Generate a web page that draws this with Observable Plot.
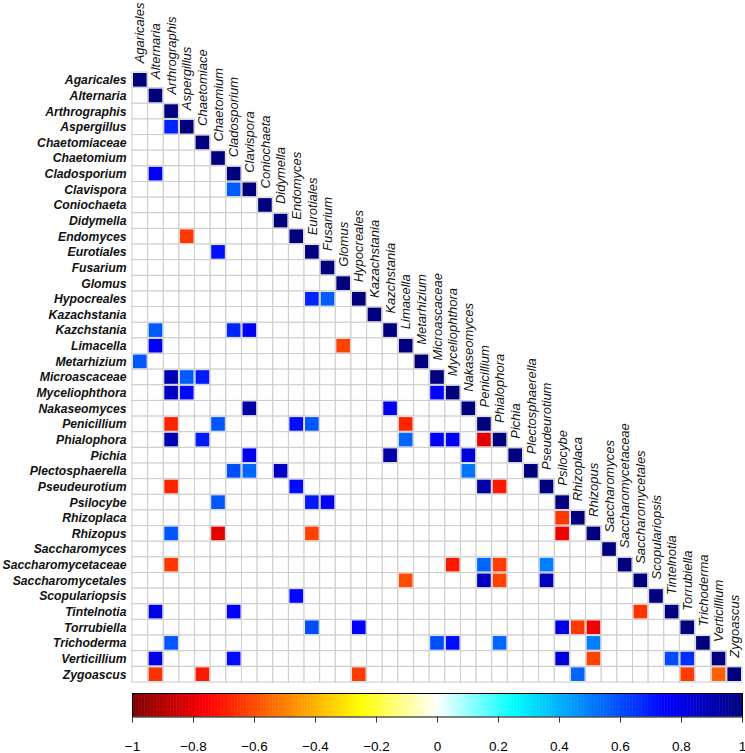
<!DOCTYPE html>
<html><head><meta charset="utf-8">
<script src="https://cdn.jsdelivr.net/npm/d3@7"></script>
<script src="https://cdn.jsdelivr.net/npm/@observablehq/plot@0.6"></script>
<style>
html,body{margin:0;padding:0;background:#fff;}
#chart svg{display:block;}
</style>
</head><body><div id="chart"></div>
<script>
// Taxa (row labels, in order)
const taxa = ["Agaricales","Alternaria","Arthrographis","Aspergillus","Chaetomiaceae","Chaetomium","Cladosporium","Clavispora","Coniochaeta","Didymella","Endomyces","Eurotiales","Fusarium","Glomus","Hypocreales","Kazachstania","Kazchstania","Limacella","Metarhizium","Microascaceae","Myceliophthora","Nakaseomyces","Penicillium","Phialophora","Pichia","Plectosphaerella","Pseudeurotium","Psilocybe","Rhizoplaca","Rhizopus","Saccharomyces","Saccharomycetaceae","Saccharomycetales","Scopulariopsis","Tintelnotia","Torrubiella","Trichoderma","Verticillium","Zygoascus"];
// Column labels as printed (one is truncated in the original)
const colLabels = ["Agaricales","Alternaria","Arthrographis","Aspergillus","Chaetomiace","Chaetomium","Cladosporium","Clavispora","Coniochaeta","Didymella","Endomyces","Eurotiales","Fusarium","Glomus","Hypocreales","Kazachstania","Kazchstania","Limacella","Metarhizium","Microascaceae","Myceliophthora","Nakaseomyces","Penicillium","Phialophora","Pichia","Plectosphaerella","Pseudeurotium","Psilocybe","Rhizoplaca","Rhizopus","Saccharomyces","Saccharomycetaceae","Saccharomycetales","Scopulariopsis","Tintelnotia","Torrubiella","Trichoderma","Verticillium","Zygoascus"];
// Significant off-diagonal correlations: [row, column, r]
const correlations = [
  ["Aspergillus","Arthrographis",0.68],
  ["Cladosporium","Alternaria",0.76],
  ["Clavispora","Cladosporium",0.57],
  ["Endomyces","Aspergillus",-0.64],
  ["Eurotiales","Chaetomium",0.72],
  ["Hypocreales","Eurotiales",0.68],["Hypocreales","Fusarium",0.57],
  ["Kazchstania","Alternaria",0.57],["Kazchstania","Cladosporium",0.68],["Kazchstania","Clavispora",0.76],
  ["Limacella","Alternaria",0.76],["Limacella","Glomus",-0.62],
  ["Metarhizium","Agaricales",0.58],
  ["Microascaceae","Arthrographis",0.90],["Microascaceae","Aspergillus",0.57],["Microascaceae","Chaetomiaceae",0.70],
  ["Myceliophthora","Arthrographis",0.87],["Myceliophthora","Aspergillus",0.73],["Myceliophthora","Microascaceae",0.75],
  ["Nakaseomyces","Clavispora",0.92],["Nakaseomyces","Kazchstania",0.78],
  ["Penicillium","Arthrographis",-0.68],["Penicillium","Chaetomium",0.58],["Penicillium","Endomyces",0.73],["Penicillium","Eurotiales",0.58],["Penicillium","Limacella",-0.68],
  ["Phialophora","Arthrographis",0.90],["Phialophora","Chaetomiaceae",0.70],["Phialophora","Limacella",0.55],["Phialophora","Microascaceae",0.76],["Phialophora","Myceliophthora",0.76],["Phialophora","Penicillium",-0.80],
  ["Pichia","Clavispora",0.78],["Pichia","Kazchstania",0.92],["Pichia","Nakaseomyces",0.82],
  ["Plectosphaerella","Cladosporium",0.60],["Plectosphaerella","Clavispora",0.55],["Plectosphaerella","Didymella",0.86],["Plectosphaerella","Nakaseomyces",0.52],
  ["Pseudeurotium","Arthrographis",-0.68],["Pseudeurotium","Endomyces",0.73],["Pseudeurotium","Penicillium",0.92],["Pseudeurotium","Phialophora",-0.70],
  ["Psilocybe","Chaetomium",0.58],["Psilocybe","Eurotiales",0.70],["Psilocybe","Fusarium",0.77],
  ["Rhizoplaca","Psilocybe",-0.64],
  ["Rhizopus","Arthrographis",0.58],["Rhizopus","Chaetomium",-0.80],["Rhizopus","Eurotiales",-0.62],["Rhizopus","Psilocybe",-0.78],
  ["Saccharomycetaceae","Arthrographis",-0.64],["Saccharomycetaceae","Myceliophthora",-0.70],["Saccharomycetaceae","Penicillium",0.55],["Saccharomycetaceae","Phialophora",-0.63],["Saccharomycetaceae","Pseudeurotium",0.50],
  ["Saccharomycetales","Limacella",-0.60],["Saccharomycetales","Penicillium",0.88],["Saccharomycetales","Phialophora",-0.62],["Saccharomycetales","Pseudeurotium",0.88],
  ["Scopulariopsis","Endomyces",0.74],
  ["Tintelnotia","Alternaria",0.80],["Tintelnotia","Cladosporium",0.75],["Tintelnotia","Saccharomycetales",-0.65],
  ["Torrubiella","Eurotiales",0.60],["Torrubiella","Hypocreales",0.75],["Torrubiella","Psilocybe",0.80],["Torrubiella","Rhizoplaca",-0.64],["Torrubiella","Rhizopus",-0.78],
  ["Trichoderma","Arthrographis",0.58],["Trichoderma","Microascaceae",0.60],["Trichoderma","Myceliophthora",0.73],["Trichoderma","Phialophora",0.55],["Trichoderma","Rhizopus",0.50],
  ["Verticillium","Alternaria",0.80],["Verticillium","Cladosporium",0.73],["Verticillium","Psilocybe",0.82],["Verticillium","Rhizopus",-0.62],["Verticillium","Tintelnotia",0.60],["Verticillium","Torrubiella",0.66],
  ["Zygoascus","Alternaria",-0.65],["Zygoascus","Chaetomiaceae",-0.70],["Zygoascus","Hypocreales",-0.63],["Zygoascus","Rhizoplaca",0.55],["Zygoascus","Torrubiella",-0.63],["Zygoascus","Verticillium",-0.56]
];
// Colour scale stops
const colorStops = [-1,-0.75,-0.5,-0.25,0,0.25,0.5,0.75,1];
const colorRange = ["#7F0000","#FF0000","#FF7F00","#FFFF00","#FFFFFF","#00FFFF","#007FFF","#0000FF","#00007F"];
const colorbarTicks = [-1,-0.8,-0.6,-0.4,-0.2,0,0.2,0.4,0.6,0.8,1];

const font = "'Liberation Sans', Arial, Helvetica, sans-serif";
const colorScale = {type: "linear", domain: colorStops, range: colorRange, interpolate: "rgb"};

const lower = [];
taxa.forEach((r, i) => taxa.forEach((c, j) => { if (j <= i) lower.push({row: r, col: c}); }));
const cells = taxa.map(t => ({row: t, col: t, r: 1}))
  .concat(correlations.map(([row, col, r]) => ({row, col, r})));
const colLabelData = taxa.map((t, i) => ({t, label: colLabels[i]}));

const matrix = Plot.plot({
  width: 745, height: 690,
  marginLeft: 132, marginRight: 3, marginTop: 72, marginBottom: 8,
  x: {domain: taxa, padding: 0, round: false, axis: null},
  y: {domain: taxa, padding: 0, round: false, axis: null},
  color: colorScale,
  style: {fontFamily: font, background: "white", overflow: "visible"},
  marks: [
    Plot.cell(lower, {x: "col", y: "row", fill: "white", stroke: "#cccccc", strokeWidth: 1}),
    Plot.cell(cells, {x: "col", y: "row", fill: "r", inset: 1}),
    Plot.text(taxa, {x: () => taxa[0], y: d => d, text: d => d, textAnchor: "end", dx: -13.8,
      fontSize: 12.2, fontWeight: "bold", fontStyle: "italic", fill: "#111"}),
    Plot.text(colLabelData, {x: "t", y: "t", text: "label", rotate: -90, textAnchor: "start", dy: -17,
      fontSize: 13, fontStyle: "italic", fill: "#111"})
  ]
});

const steps = d3.range(-1, 1, 0.005);
const bar = Plot.plot({
  width: 745, height: 63,
  marginLeft: 132, marginRight: 3, marginTop: 3, marginBottom: 36.5,
  x: {domain: [-1, 1]},
  color: colorScale,
  style: {fontFamily: font, background: "white", overflow: "visible"},
  marks: [
    Plot.rect(steps, {x1: d => d, x2: d => Math.min(1, d + 0.0065), fill: d => d + 0.0025}),
    Plot.frame({stroke: "#000", strokeWidth: 1}),
    Plot.axisX({ticks: colorbarTicks, tickSize: 6, tickPadding: 18, fontSize: 13.5, stroke: "#333",
      tickFormat: d => d < 0 ? "\u2212" + Math.abs(d) : String(d), label: null})
  ]
});

const root = document.getElementById("chart");
root.appendChild(matrix);
root.appendChild(bar);
</script>
</body></html>
